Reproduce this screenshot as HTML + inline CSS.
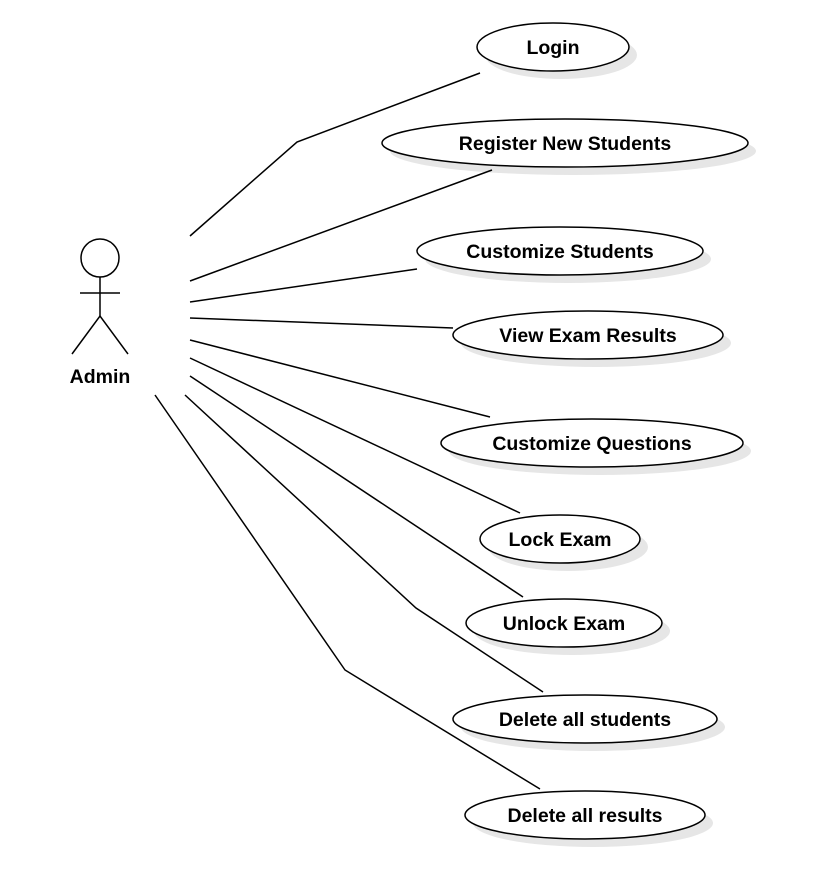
<!DOCTYPE html>
<html><head><style>body{margin:0;background:#fff}svg{display:block}text{font-family:"Liberation Sans",sans-serif;font-weight:bold;font-size:19.5px;text-anchor:middle;fill:#000}</style></head>
<body>
<svg width="813" height="894" viewBox="0 0 813 894" xmlns="http://www.w3.org/2000/svg">
<g fill="#e6e6e6" stroke="none">
<ellipse cx="561" cy="55" rx="76" ry="24"/>
<ellipse cx="573" cy="151" rx="183" ry="24"/>
<ellipse cx="568" cy="259" rx="143" ry="24"/>
<ellipse cx="596" cy="343" rx="135" ry="24"/>
<ellipse cx="600" cy="451" rx="151" ry="24"/>
<ellipse cx="568" cy="547" rx="80" ry="24"/>
<ellipse cx="572" cy="631" rx="98" ry="24"/>
<ellipse cx="593" cy="727" rx="132" ry="24"/>
<ellipse cx="593" cy="823" rx="120" ry="24"/>
</g>
<g fill="none" stroke="#000" stroke-width="1.5">
<polyline points="190,236 297,142 480,73"/>
<line x1="190" y1="281" x2="492" y2="170"/>
<line x1="190" y1="302" x2="417" y2="269"/>
<line x1="190" y1="318" x2="453" y2="328"/>
<line x1="190" y1="340" x2="490" y2="417"/>
<line x1="190" y1="358" x2="520" y2="513"/>
<line x1="190" y1="376" x2="523" y2="597"/>
<polyline points="185,395 416,608 543,692"/>
<polyline points="155,395 345,670 540,789"/>
<circle cx="100" cy="258" r="19"/>
<line x1="100" y1="277" x2="100" y2="316"/>
<line x1="80" y1="293" x2="120" y2="293"/>
<polyline points="72,354 100,316 128,354"/>
</g>
<g fill="#fff" stroke="#000" stroke-width="1.5">
<ellipse cx="553" cy="47" rx="76" ry="24"/>
<ellipse cx="565" cy="143" rx="183" ry="24"/>
<ellipse cx="560" cy="251" rx="143" ry="24"/>
<ellipse cx="588" cy="335" rx="135" ry="24"/>
<ellipse cx="592" cy="443" rx="151" ry="24"/>
<ellipse cx="560" cy="539" rx="80" ry="24"/>
<ellipse cx="564" cy="623" rx="98" ry="24"/>
<ellipse cx="585" cy="719" rx="132" ry="24"/>
<ellipse cx="585" cy="815" rx="120" ry="24"/>
</g>
<text x="553" y="54">Login</text>
<text x="565" y="150">Register New Students</text>
<text x="560" y="258">Customize Students</text>
<text x="588" y="342">View Exam Results</text>
<text x="592" y="450">Customize Questions</text>
<text x="560" y="546">Lock Exam</text>
<text x="564" y="630">Unlock Exam</text>
<text x="585" y="726">Delete all students</text>
<text x="585" y="822">Delete all results</text>
<text x="100" y="383">Admin</text>
</svg>
</body></html>
